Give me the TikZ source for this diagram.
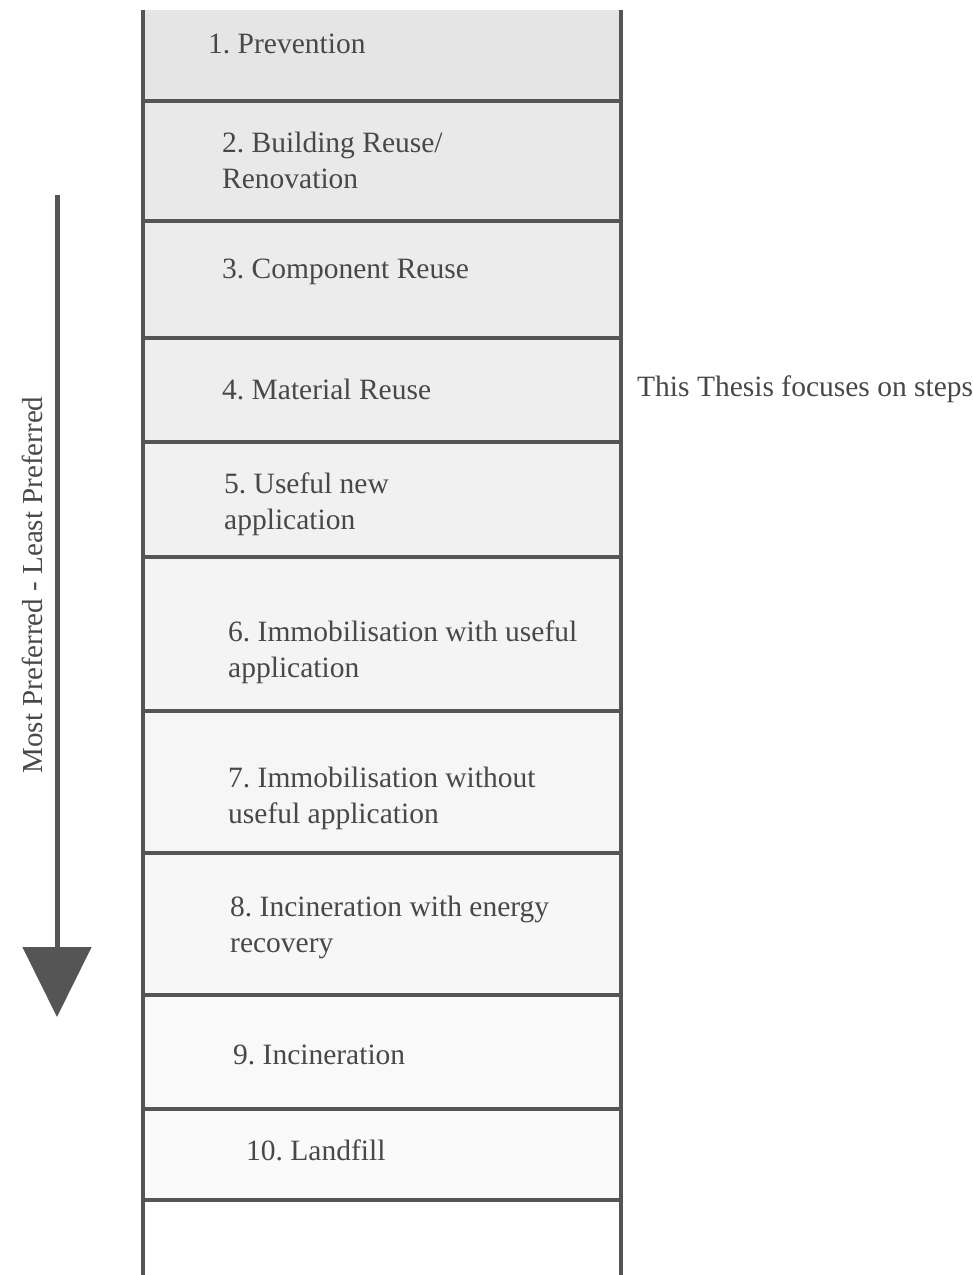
\documentclass[tikz,border=0pt]{standalone}
\usepackage{fontspec}
\setmainfont{Liberation Serif}
\usetikzlibrary{arrows.meta}
\definecolor{rule}{HTML}{555555}
\definecolor{ink}{HTML}{484848}
\begin{document}
\frenchspacing
\begin{tikzpicture}[x=1pt,y=-1pt,
  rulestyle/.style={draw=rule,line width=4.5pt},
  label/.style={anchor=west,inner sep=0pt,text=ink,font=\fontsize{29.5}{36}\selectfont,align=left},
  cellfill/.style={fill=#1,draw=none}]
\useasboundingbox (0,0) rectangle (973,1275);
\clip (0,0) rectangle (973,1275);
% cell fills
\path[cellfill=black!10] (143,10) rectangle (621,101);
\path[cellfill=black!8.5] (143,101) rectangle (621,221);
\path[cellfill=black!7.5] (143,221) rectangle (621,338);
\path[cellfill=black!6.5] (143,338) rectangle (621,442);
\path[cellfill=black!5.5] (143,442) rectangle (621,557);
\path[cellfill=black!4.5] (143,557) rectangle (621,711);
\path[cellfill=black!3.5] (143,711) rectangle (621,853);
\path[cellfill=black!3] (143,853) rectangle (621,995);
\path[cellfill=black!2.5] (143,995) rectangle (621,1109);
\path[cellfill=black!2] (143,1109) rectangle (621,1200);
% horizontal rules
\foreach \yy in {101,221,338,442,557,711,853,995,1109,1200}
  \draw[rulestyle] (143,\yy) -- (621,\yy);
% vertical rules
\draw[draw=rule,line width=4pt] (143,10) -- (143,1275);
\draw[draw=rule,line width=4pt] (621,10) -- (621,1275);
% texts
\node[label] (t1) at (208,44) {1. Prevention};
\node[label] (t2) at (222,160) {2. Building Reuse/\\Renovation};
\node[label] (t3) at (222,272) {3. Component Reuse};
\node[label] (t4) at (222,389) {4. Material Reuse};
\node[label] (t5) at (224,504) {5. Useful new\\application};
\node[label] (t6) at (228,652) {6. Immobilisation with useful\\application};
\node[label] (t7) at (228,798) {7. Immobilisation without\\useful application};
\node[label] (t8) at (230,927) {8. Incineration with energy\\recovery};
\node[label] (t9) at (233,1055) {9. Incineration};
\node[label] (t10) at (246,1150) {10. Landfill};
\node[label] (note) at (637,389) {This Thesis focuses on steps};
% arrow
\coordinate (a0) at (57,195);
\coordinate (a1) at (57,1017);
\draw[draw=rule,line width=5pt,-{Triangle[width=68pt,length=70pt]}] (a0) -- (a1);
\node[text=ink,font=\fontsize{29}{34}\selectfont,rotate=90,inner sep=0pt] (pref) at (32,585) {Most Preferred - Least Preferred};
\end{tikzpicture}
\end{document}
